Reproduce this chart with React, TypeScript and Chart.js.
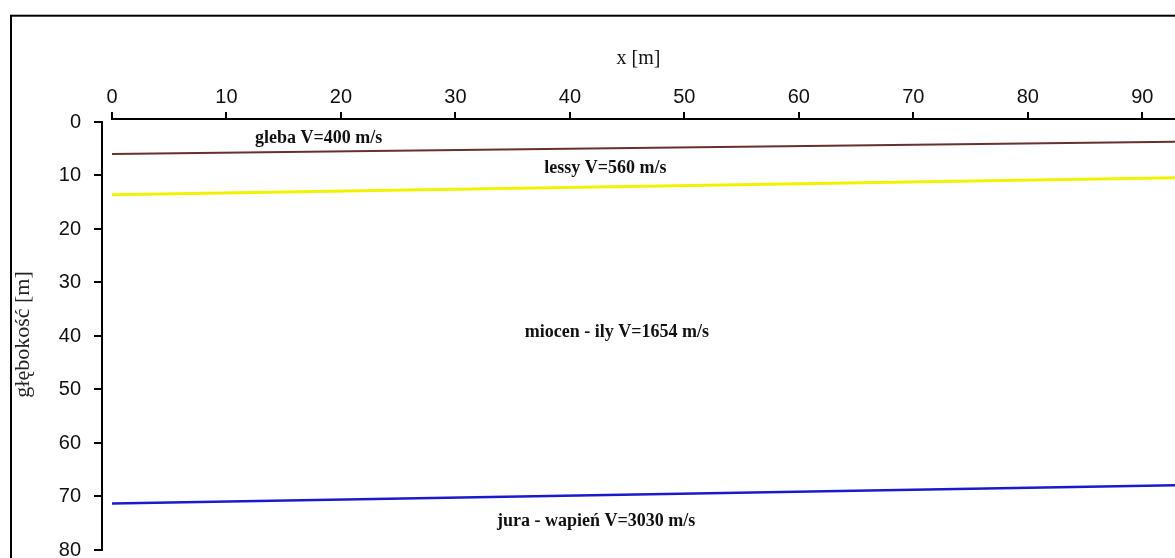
import React, { useEffect, useRef } from "react";
import { Chart, registerables } from "chart.js";

Chart.register(...registerables);

// ---- data ----
const boundaryX = [0, 92.9];
const glebaBottom = [6.0, 3.7];
const lessyBottom = [13.6, 10.4];
const mioceneBottom = [71.3, 67.9];

const xTickValues = [0, 10, 20, 30, 40, 50, 60, 70, 80, 90];
const yTickValues = [0, 10, 20, 30, 40, 50, 60, 70, 80];

const layerLabels = [
  "gleba V=400 m/s",
  "lessy V=560 m/s",
  "miocen - ily V=1654 m/s",
  "jura - wapień V=3030 m/s",
];
const layerLabelX = [18.05, 43.1, 44.1, 42.3];
const layerLabelY = [4.0, 9.6, 40.2, 75.6];

const xTitle = "x [m]";
const yTitle = "głębokość [m]";

const toPoints = (ys: number[]) => boundaryX.map((x, i) => ({ x, y: ys[i] }));

const framePlugin = {
  id: "frame",
  afterDraw(chart: any) {
    const ctx = chart.ctx;
    ctx.save();
    ctx.strokeStyle = "#000";
    ctx.lineWidth = 2;
    ctx.strokeRect(11, 15.7, 1400, 1000);
    ctx.restore();
  },
};

const axesPlugin = {
  id: "axesLines",
  afterDraw(chart: any) {
    const ctx = chart.ctx;
    const xs = chart.scales.x;
    const ys = chart.scales.y;
    const area = chart.chartArea;
    ctx.save();
    ctx.strokeStyle = "#000";
    ctx.lineWidth = 2;
    ctx.lineCap = "butt";
    ctx.beginPath();
    ctx.moveTo(xs.getPixelForValue(xTickValues[0]) - 1, area.top);
    ctx.lineTo(area.right, area.top);
    ctx.moveTo(area.left, ys.getPixelForValue(yTickValues[0]) - 1);
    ctx.lineTo(area.left, ys.getPixelForValue(yTickValues[yTickValues.length - 1]) + 1);
    ctx.stroke();
    ctx.restore();
  },
};

const labelsPlugin = {
  id: "layerLabels",
  afterDatasetsDraw(chart: any) {
    const ctx = chart.ctx;
    const xs = chart.scales.x;
    const ys = chart.scales.y;
    ctx.save();
    ctx.fillStyle = "#111";
    ctx.font = "bold 18px 'Liberation Serif', 'Times New Roman', serif";
    ctx.textAlign = "center";
    ctx.textBaseline = "alphabetic";
    layerLabels.forEach((t, i) => {
      ctx.fillText(t, xs.getPixelForValue(layerLabelX[i]), ys.getPixelForValue(layerLabelY[i]));
    });
    ctx.restore();
  },
};

export default function App() {
  const ref = useRef<HTMLCanvasElement | null>(null);

  useEffect(() => {
    if (!ref.current) return;
    const tickFont = { family: "'Liberation Sans', Arial, sans-serif", size: 20 };
    const chart = new Chart(ref.current, {
      type: "scatter",
      data: {
        datasets: [
          {
            data: toPoints(glebaBottom),
            showLine: true,
            borderColor: "#6a2f2f",
            borderWidth: 2,
            pointRadius: 0,
          },
          {
            data: toPoints(lessyBottom),
            showLine: true,
            borderColor: "#f2f200",
            borderWidth: 3,
            pointRadius: 0,
          },
          {
            data: toPoints(mioceneBottom),
            showLine: true,
            borderColor: "#1a1acc",
            borderWidth: 2.5,
            pointRadius: 0,
          },
        ],
      },
      options: {
        animation: false,
        responsive: true,
        maintainAspectRatio: false,
        events: [],
        layout: { padding: { left: 0, top: 0, right: 0, bottom: 8 } },
        plugins: {
          legend: { display: false },
          tooltip: { enabled: false },
          title: { display: false },
        },
        scales: {
          x: {
            type: "linear",
            position: "top",
            min: -0.873,
            max: 92.86,
            afterFit: (s: any) => {
              s.height = 119;
              s.paddingLeft = 0;
              s.paddingRight = 0;
              s.paddingTop = 0;
              s.paddingBottom = 0;
            },
            afterBuildTicks: (s: any) => {
              s.ticks = xTickValues.map((v) => ({ value: v }));
            },
            ticks: {
              stepSize: 10,
              includeBounds: false,
              autoSkip: false,
              maxRotation: 0,
              padding: 3,
              color: "#111",
              font: tickFont,
            },
            grid: {
              drawOnChartArea: false,
              drawTicks: true,
              tickLength: 7,
              color: "#000",
              lineWidth: 2,
            },
            border: { display: false },
            title: {
              display: true,
              text: xTitle,
              color: "#111",
              font: { family: "'Liberation Serif', 'Times New Roman', serif", size: 20 },
              padding: { top: 47, bottom: 0 },
            },
          },
          y: {
            type: "linear",
            position: "left",
            reverse: true,
            min: -0.56,
            max: 80,
            afterFit: (s: any) => {
              s.width = 102;
              s.paddingLeft = 0;
              s.paddingRight = 0;
              s.paddingTop = 0;
              s.paddingBottom = 0;
            },
            afterBuildTicks: (s: any) => {
              s.ticks = yTickValues.map((v) => ({ value: v }));
            },
            ticks: {
              stepSize: 10,
              includeBounds: false,
              autoSkip: false,
              padding: 13,
              color: "#111",
              font: tickFont,
            },
            grid: {
              drawOnChartArea: false,
              drawTicks: true,
              tickLength: 8,
              color: "#000",
              lineWidth: 2,
            },
            border: { display: false },
            title: {
              display: true,
              text: yTitle,
              color: "#222",
              font: { family: "'Liberation Serif', 'Times New Roman', serif", size: 22 },
              padding: { top: 10, bottom: 0 },
            },
          },
        },
      },
      plugins: [labelsPlugin, axesPlugin, framePlugin],
    } as any);
    return () => chart.destroy();
  }, []);

  return (
    <div
      style={{
        position: "fixed",
        left: 0,
        top: 0,
        width: 1175,
        height: 558,
        overflow: "hidden",
        background: "#fff",
      }}
    >
      <canvas ref={ref} />
    </div>
  );
}
